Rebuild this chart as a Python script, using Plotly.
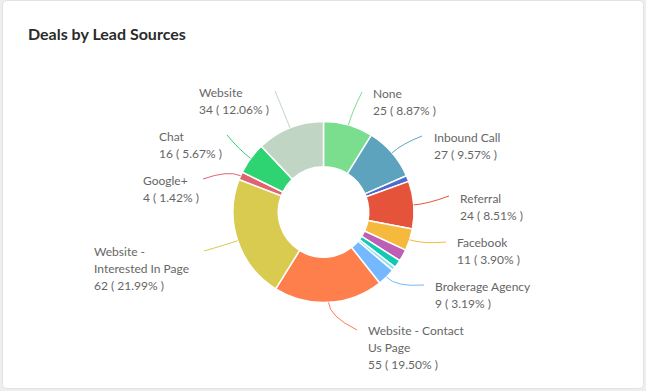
import math
import plotly.graph_objects as go

# ---------------- data ----------------
categories = ["None", "Inbound Call", "Source A", "Referral", "Facebook",
              "Source B", "Source C", "Source D", "Brokerage Agency",
              "Website - Contact Us Page", "Website - Interested In Page",
              "Google+", "Chat", "Website"]
deal_counts = [25, 27, 3, 24, 11, 6, 4, 2, 9, 55, 62, 4, 16, 34]
slice_colors = ["#7bdd8e", "#5ea3be", "#4c6ccd", "#e5533a", "#f5b93e",
                "#bc5fb5", "#14c9b4", "#88e3f0", "#74b9ff", "#fe7e4c",
                "#d8cb4f", "#df6470", "#2fd472", "#c1d5c4"]
# labelled categories and how their names wrap
wrapped_names = {
    "None": ["None"],
    "Inbound Call": ["Inbound Call"],
    "Referral": ["Referral"],
    "Facebook": ["Facebook"],
    "Brokerage Agency": ["Brokerage Agency"],
    "Website - Contact Us Page": ["Website - Contact", "Us Page"],
    "Website - Interested In Page": ["Website -", "Interested In Page"],
    "Google+": ["Google+"],
    "Chat": ["Chat"],
    "Website": ["Website"],
}

# ---------------- layout (pixels) ----------------
W, H = 646, 391
CX, CY, R = 323.5, 212.0, 90.5
label_pos = {   # text left x, first-line centre y
    "None": (371, 93), "Inbound Call": (432, 137), "Referral": (458, 198),
    "Facebook": (455, 242), "Brokerage Agency": (433, 286),
    "Website - Contact Us Page": (366, 330),
    "Website - Interested In Page": (92, 251), "Google+": (141, 180),
    "Chat": (157, 136), "Website": (197, 92),
}
connector_end = {
    "None": (362, 92), "Inbound Call": (422, 136), "Referral": (449, 196),
    "Facebook": (446, 242), "Brokerage Agency": (424, 285),
    "Website - Contact Us Page": (357, 330),
    "Website - Interested In Page": (204, 251), "Google+": (203, 179),
    "Chat": (227, 135), "Website": (275, 91),
}
LINE_H = 17
FONT = "Lato, 'Open Sans', sans-serif"

fig = go.Figure()
# helper scatter so pixel axes exist
fig.add_trace(go.Scatter(x=[], y=[], showlegend=False, hoverinfo="skip"))
fig.add_trace(go.Pie(
    labels=categories, values=deal_counts, sort=False, direction="clockwise",
    rotation=0, hole=0.5, textinfo="none",
    marker=dict(colors=slice_colors, line=dict(color="white", width=1.5)),
    domain=dict(x=[(CX - R) / W, (CX + R) / W],
                y=[(H - CY - R) / H, (H - CY + R) / H]),
    showlegend=False,
))

total = sum(deal_counts)
shapes = [dict(type="path", xref="x", yref="y", layer="below",
               path="M 6.5,0.5 L 639.5,0.5 Q 643.5,0.5 643.5,4.5 L 643.5,384.5 "
                    "Q 643.5,388.5 639.5,388.5 L 6.5,388.5 Q 2.5,388.5 2.5,384.5 "
                    "L 2.5,4.5 Q 2.5,0.5 6.5,0.5 Z",
               fillcolor="white", line=dict(color="#e2e2e2", width=1))]
annotations = [dict(x=26, y=33, xref="x", yref="y", xanchor="left", yanchor="middle",
                    text="<b>Deals by Lead Sources</b>", showarrow=False,
                    font=dict(family=FONT, size=16, color="#2b2b2b"))]

cum = 0
for name, val, col in zip(categories, deal_counts, slice_colors):
    mid = (cum + val / 2) / total * 2 * math.pi
    cum += val
    if name not in wrapped_names:
        continue
    sx, sy = CX + R * math.sin(mid), CY - R * math.cos(mid)
    qx, qy = CX + (R + 14) * math.sin(mid), CY - (R + 14) * math.cos(mid)
    ex, ey = connector_end[name]
    shapes.append(dict(type="path", xref="x", yref="y", layer="above",
                       path=f"M {sx:.1f},{sy:.1f} Q {qx:.1f},{qy:.1f} {ex},{ey}",
                       line=dict(color=col, width=1)))
    lines = wrapped_names[name] + [f"{val} ( {val / total * 100:.2f}% )"]
    lx, ly = label_pos[name]
    for i, t in enumerate(lines):
        annotations.append(dict(x=lx, y=ly + i * LINE_H, xref="x", yref="y",
                                xanchor="left", yanchor="middle", text=t,
                                showarrow=False,
                                font=dict(family=FONT, size=12, color="#666666")))

fig.update_layout(
    width=W, height=H, margin=dict(l=0, r=0, t=0, b=0),
    paper_bgcolor="#eeeeee", plot_bgcolor="rgba(0,0,0,0)",
    xaxis=dict(range=[0, W], visible=False, fixedrange=True),
    yaxis=dict(range=[H, 0], visible=False, fixedrange=True),
    shapes=shapes, annotations=annotations,
)
fig.write_html("out.html")
